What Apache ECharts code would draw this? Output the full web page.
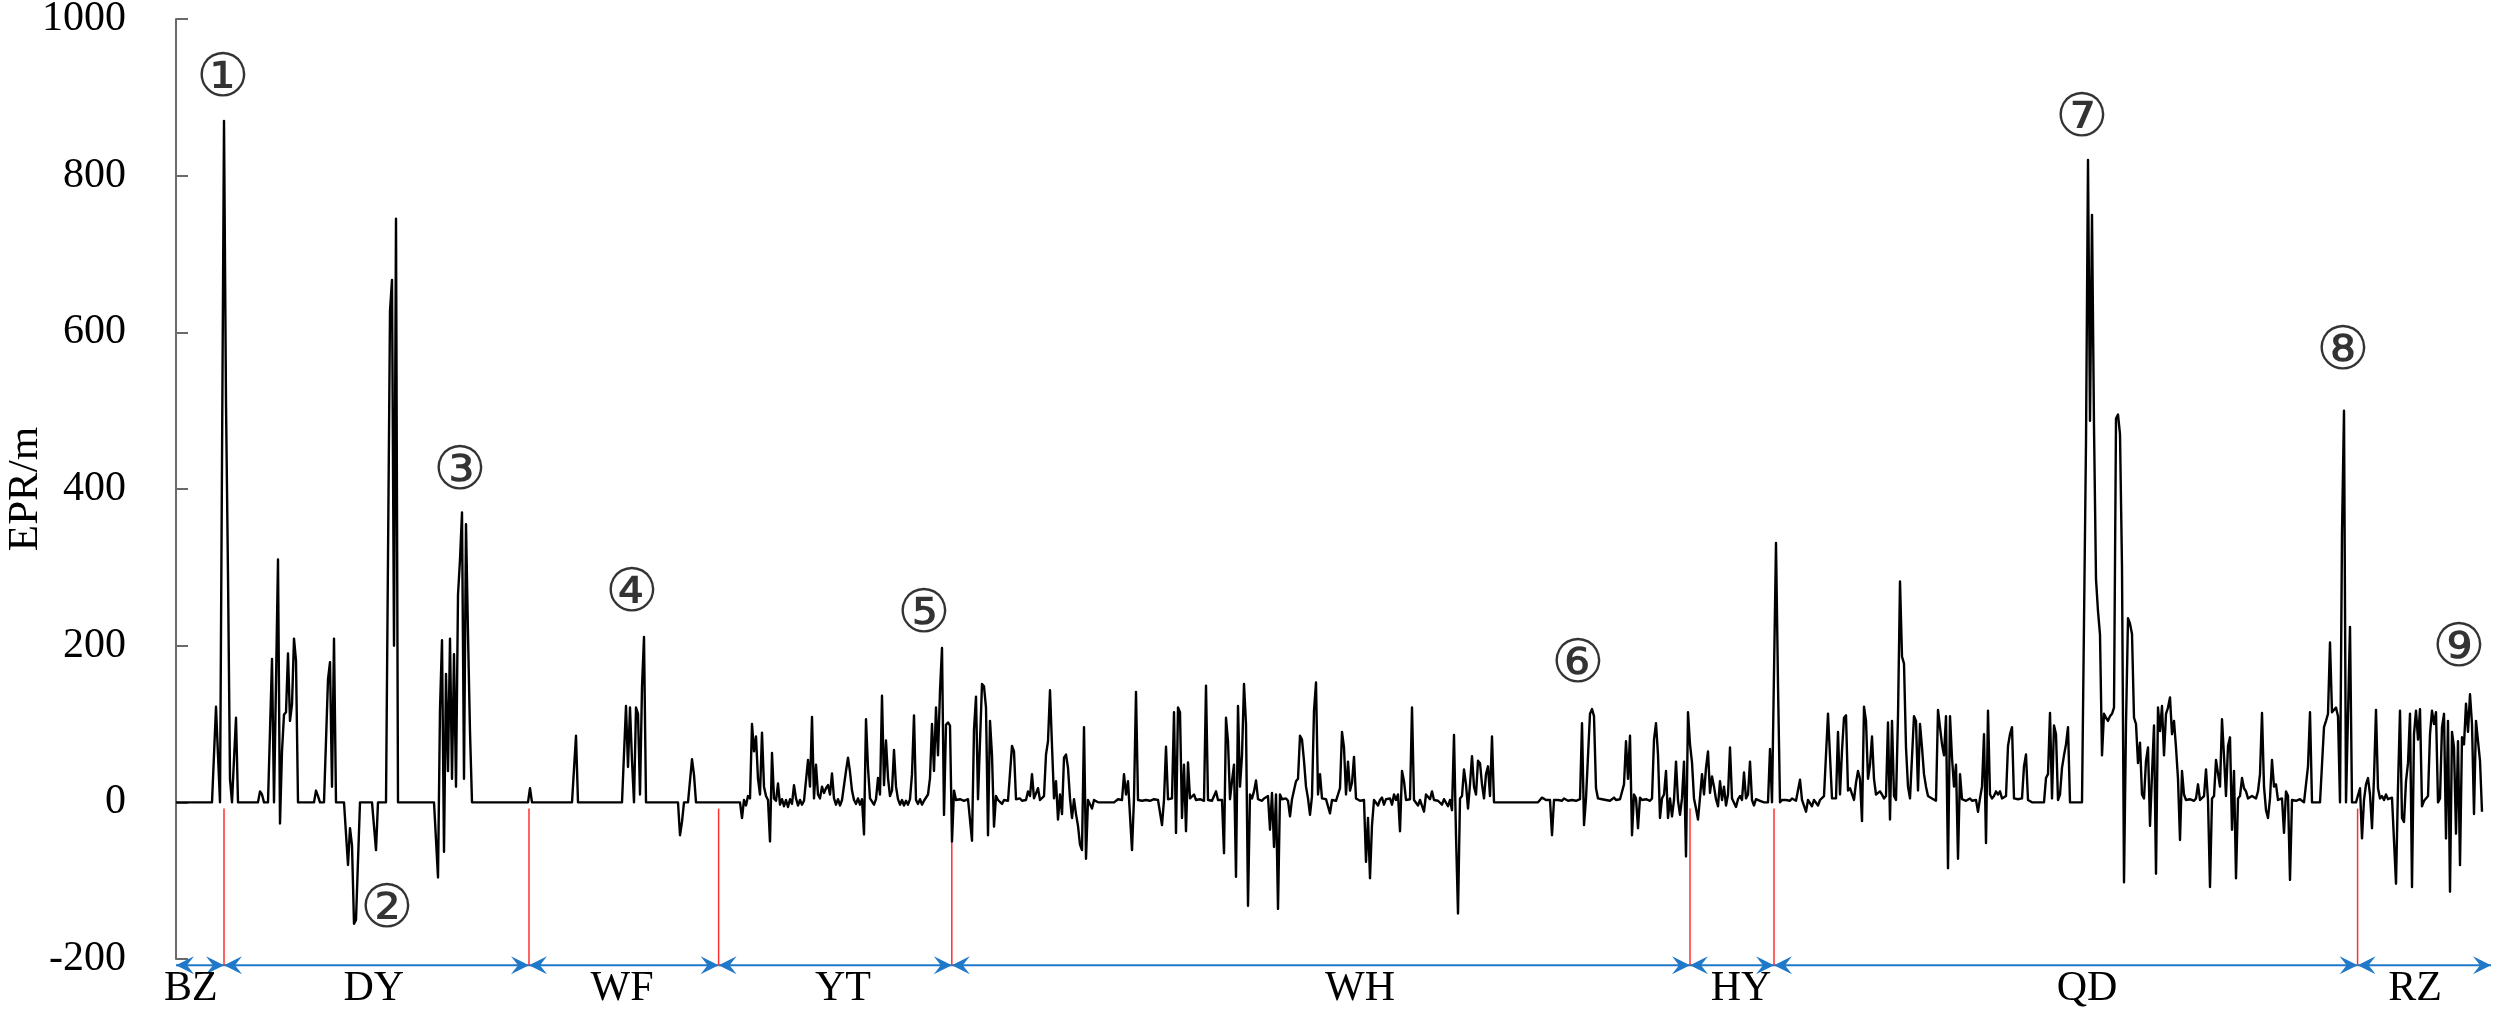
<!DOCTYPE html>
<html>
<head>
<meta charset="utf-8">
<script src="https://cdn.jsdelivr.net/npm/echarts@6/dist/echarts.min.js"></script>
<style>
html,body{margin:0;padding:0;background:#fff;}
#chart{width:2500px;height:1011px;}
</style>
</head>
<body>
<div id="chart"></div>
<script>
// ---- EPR (m) per transect index, written as runs: [startIndex, [values...]] ----
// transects not listed have EPR = 0 (unchanged shoreline)
const bzRuns = [
  [19, [0, 122, 60]],
  [24, [870, 510, 290, 30]]
];
const dyRuns = [
  [29, [55, 108]],
  [42, [14, 10]],
  [48, [183, 0, 153, 310, -27, 65, 112, 115, 190, 104, 125, 209, 181]],
  [70, [15, 8]],
  [76, [157, 179, 20, 209]],
  [86, [-80, -33, -55, -155, -150, -149]],
  [100, [-61]],
  [107, [627, 667, 200, 745]],
  [131, [-96, 119, 207, -63, 164, 40, 209, 30, 189, 20, 265, 310, 370, 30, 355, 215, 90]]
];
const wfRuns = [
  [177, [18]],
  [200, [85]],
  [225, [123, 45, 121, 53, 0, 121, 113, 10, 147, 211]],
  [252, [-42, -25]],
  [258, [55, 35]]
];
const ytRuns = [
  [283, [-20, 3, -4, 8, 5, 100, 65, 84, 30, 10, 89, 20, 8, 3, -50, 63, 5, 2, 24]],
  [302, [-3, 4, -5, 3, -6, 4, -2, 22, 5, -4, 3, -3, 2, 4, 54, 20, 109, 5, 48, 10]],
  [322, [5, 20, 12, 18, 22, 10, 37, 5, -3, 4, -4, 3, 5, 40, 57, 39, 15, 3, -2, 5]],
  [342, [-3, 4, -41, 106, 44, 5, 3, -3, 4, 31, 10, 136, 22, 79, 31, 8, 15, 67, 20, 4]],
  [362, [-3, 3, -4, 2, -3, 4, 36, 111, 3, -2, 4, -3, 2, 4, 10, 31, 100, 40, 121, 60]],
  [382, [142, 197, -16, 99, 102, 98]]
];
const whRuns = [
  [388, [-50, 15, 3, 2, 4, 3, 2, 3, 4, 2, -49, 93, 135, 4, 3, 151, 148, 121, -42, 104]],
  [408, [60, -31, 8, 3, 4, -2, 3, 5, 2, 3, 72, 65, 4, 3, 5, 2, 4, 3, 14, 8]],
  [428, [36, 5, 4, 18, 3, 2, 8, 61, 78, 143, 72, 5, 27, -22, 10, -15, 57, 61, 44, 5]],
  [448, [-20, 4, -15, -30, -54, -61, 96, -72, 3, 2, -8, 3, 2]],
  [471, [4, 2, 3, 36, 10, 27, 25, -61, 5, 141, 3, 3, 2, 4, 3, 5, 2, 3, 4, 2]],
  [491, [3, 4, -29, 3, 71, 4, 3, 5, 115, -39, 121, 115, -20, 48, -37, 51, 5, 3, 10, 3]],
  [511, [2, 4, 3, 2, 149, 3, 4, 2, 3, 14, 3, 5, 3, -65, 108, 78, 4, 27, 48, -95]],
  [531, [123, 20, 60, 151, 100, -132, 10, 5, 14, 28, 4, 3, 2, 5, 3, 8, -35, 12, -57, 10]],
  [551, [-136, 10, 4, 3, 5, 2, -18, 4, 3, 27, 30, 85, 80, 53, 20, 5, -16, 8, 117, 153]],
  [571, [10, 36, 5, 3, 4, 2, -14, 3, 5, 2, 4, 18, 90, 70, 10, 52, 15, 25, 58, 5]],
  [591, [3, 2, 4, 3, -76, -20, -97, -29, 3, 5, -4, 3, 6, -3, 4, 2, 5, -3, 10, 3]],
  [611, [10, -37, 40, 27, 3, 2, 4, 121, 3, 2, -4, 3, 2, -12, 10, 8, 4, 14, 3, 5]],
  [631, [2, 3, -3, 4, 2, -5, 3, -10, 86, -42, -142, 5, 8, 42, 23, -8, 23, 59, 20, 10]],
  [651, [53, 50, 23, 5, 36, 46, 8, 84]],
  [683, [6, 6, 3, 2, 3, -42, 3, 2, 3, 4, 2, 5, 3, 2, 4, 3, 5, 2, 3, 4]],
  [703, [101, -29, 5, 3, 113, 119, 110, 18, 5, 3, 4, 2, 3, 5, 2, 4, 6, 3, 2, 4]],
  [723, [3, 23, 78, 30, 85, -42, 10, 5, -33, 6, 3, 2, 4, 3, 2, 5, 80, 101, 61, -20]],
  [743, [5, 10, 40, -20, 5, -18, 3, 52, 2, -16, 5, 52, -69, 115]]
];
const hyRuns = [
  [757, [74, 51, 5, -8, -22, 6, 36, 10, 44, 65, 12, 33, 20, 4, -5, 27, 3, 20, -4, 10]],
  [777, [70, 5, 3, -6, 4, 8, 3, 38, 5, 10, 52, 3, -4, 4, 6, 2, 3, 0, 0, 0]],
  [797, [68, 0, 0, 331, 150]]
];
const qdRuns = [
  [803, [3, 2, 3, 4, 2, 5, 3, 2, 4, 29, 3, 2, -12, 3, 4, -5, 3, 2, -4, 3]],
  [823, [5, 8, 10, 113, 113, 5, 3, 5, 90, 10, 66, 108, 111, 15, 18, 20, 3, 25, 40, 30]],
  [843, [-24, 122, 104, 30, 48, 84, 30, 10, 8, 14, 10, 5, 8, 102, -22, 104, 8, 3, 110, 282]],
  [863, [186, 177, 70, 20, 5, 3, 110, 104, 15, 100, 70, 36, 20, 8, 10, 5, 3, 2, 118, 96]],
  [883, [74, 60, 110, -84, 110, 57, 20, 48, -72, 36, 4, 3, 2, 3, 5, 2, 4, 3, -12, 5]],
  [903, [20, 87, -52, 117, 10, 5, 8, 14, 10, 14, 5, 3, 8, 72, 87, 96, 5, 3, 4, 2]],
  [923, [5, 46, 61, 3, 2, 0, 2, 0, 2, 0, 2, 0, 31, 36, 114, 5, 98, 87, 3, 10]],
  [943, [44, 60, 74, 96]],
  [955, [460, 820, 487, 750, 480, 285, 244, 214, 60, 113, 108, 104, 110, 113, 121, 490, 495, 470, 300, -102]],
  [975, [100, 235, 228, 215, 108, 100, 50, 76, 10, 5, 53, 70, -30, 36, 98, -91, 121, 91, 123, 60]],
  [995, [113, 121, 134, 87, 104, 70, 30, -48, 40, 10]],
  [1005, [3, 2, 4, 3, 2, 5, 23, 3, 4, 8, 42, 3, -108, 5, 8, 54, 52, 20, 106, 59]],
  [1025, [8, 72, 83, -35, 40, -97, 5, 8, 31, 18, 14, 5, 3, 8, 10, 5, 14, 36, 114, 20]],
  [1045, [-10, -20, 5, 54, 20, 23, 3, 2, 5, -39, 14, 8, -99, 3, 4, 2, 3, 4, 2, 0]],
  [1065, [0, 46, 115]],
  [1074, [96, 104, 113, 204, 115, 117, 121, 110, 0, 344, 500, 0, 0, 224]]
];
const rzRuns = [
  [1092, [18, -46, 3, 23, 31, 10, -33, 31, 118, 18, 5, 8, 3, 10, 4, 3, 6, 5, -104, 20]],
  [1112, [117, -20, -25, 27, 50, 113, -108, 87, 117, 80, 119, -5, 2, 5, 8, 87, 117, 100, 115, 0]],
  [1132, [5, 96, 113, -46, 104, -114, 90, 70, -40, 78, -80, 83, 74, 126, 90, 138, 100, -15, 104, 106]],
  [1152, [53, -12]]
];

// ---- coastal segments (transect index extents) ----
const segNames  = ['BZ', 'DY', 'WF', 'YT', 'WH', 'HY', 'QD', 'RZ'];
const segBounds = [0, 24, 176.5, 271.3, 387.9, 757, 799, 1090.8, 1157.5];
const segLabelAt = [7.4, 98.9, 223, 333.5, 592, 782.5, 955.5, 1119.5];

// ---- circled annotations: [transect index, EPR, text] ----
const marks = [
  [23.5, 922, '①'], [105.5, -139, '②'], [142, 420, '③'], [228, 264, '④'],
  [374, 237, '⑤'], [701, 173, '⑥'], [953, 870, '⑦'], [1083.5, 573, '⑧'], [1141.5, 194, '⑨']
];

// ---- y-axis ticks ----
const yMin = -200, yMax = 1000, yStep = 200;

// build series table
const N = 1154;
const epr = new Array(N).fill(0);
[bzRuns, dyRuns, wfRuns, ytRuns, whRuns, hyRuns, qdRuns, rzRuns].forEach(runs =>
  runs.forEach(([s, vals]) => vals.forEach((v, i) => { epr[s + i] = v; })));
const lineData = epr.map((v, i) => [i, v]);
const segData = segNames.map((n, i) => [segBounds[i], segBounds[i + 1], segLabelAt[i]]);

const SERIF = '"Times New Roman", "Liberation Serif", serif';
const BLUE = '#1f78c8', RED = '#ff3030';
const ARROW_V = -208, LABEL_V = -238, RED_TOP_V = -8;

function arrowHead(p, dir) {
  return {
    type: 'polygon',
    shape: { points: [[p[0], p[1]], [p[0] - dir * 18, p[1] - 9], [p[0] - dir * 11, p[1]], [p[0] - dir * 18, p[1] + 9]] },
    style: { fill: BLUE }
  };
}

const chart = echarts.init(document.getElementById('chart'), null, { renderer: 'canvas' });
chart.setOption({
  animation: false,
  backgroundColor: '#fff',
  grid: { left: 176, right: 4, top: 19, bottom: 52, containLabel: false, outerBoundsMode: 'none' },
  xAxis: { type: 'value', min: 0, max: 1160, show: false },
  yAxis: {
    type: 'value', min: yMin, max: yMax, interval: yStep,
    name: 'EPR/m', nameLocation: 'middle', nameGap: 129, nameMoveOverlap: false,
    nameTextStyle: { fontFamily: SERIF, fontSize: 43, color: '#000' },
    axisLine: { show: true, lineStyle: { color: '#6a6a6a', width: 2 } },
    axisTick: { show: true, inside: true, length: 12, lineStyle: { color: '#6a6a6a', width: 2 } },
    axisLabel: { margin: 50, fontFamily: SERIF, fontSize: 42, color: '#000', formatter: v => String(v) },
    splitLine: { show: false }
  },
  series: [
    {
      type: 'line', data: lineData, symbol: 'none', silent: true,
      lineStyle: { color: '#000', width: 2.4, join: 'round' }, z: 3
    },
    {
      type: 'custom', data: segData, silent: true, z: 2,
      encode: { x: [0, 1, 2] },
      renderItem: function (params, api) {
        const i = params.dataIndex;
        const a = api.coord([api.value(0), ARROW_V]);
        const b = api.coord([api.value(1), ARROW_V]);
        const lab = api.coord([api.value(2), LABEL_V]);
        const children = [
          { type: 'line', shape: { x1: a[0], y1: a[1], x2: b[0], y2: b[1] }, style: { stroke: BLUE, lineWidth: 2 } },
          arrowHead(a, -1), arrowHead(b, 1),
          { type: 'text', style: { text: segNames[i], x: lab[0], y: lab[1], align: 'center', verticalAlign: 'middle',
              fontFamily: SERIF, fontSize: 42, fill: '#000' } }
        ];
        if (i > 0) {
          const t = api.coord([api.value(0), RED_TOP_V]);
          children.push({ type: 'line', shape: { x1: a[0], y1: t[1], x2: a[0], y2: a[1] }, style: { stroke: RED, lineWidth: 1.5 } });
        }
        return { type: 'group', children: children };
      }
    },
    {
      type: 'scatter', data: marks, silent: true, z: 4, clip: false,
      symbol: 'circle', symbolSize: 2, itemStyle: { color: 'rgba(255,255,255,0)' },
      label: {
        show: true, position: 'inside', formatter: p => p.data[2],
        fontFamily: '"DejaVu Serif", "DejaVu Sans", "Noto Sans CJK SC", serif', fontSize: 60, color: '#000'
      }
    }
  ]
});
</script>
</body>
</html>
